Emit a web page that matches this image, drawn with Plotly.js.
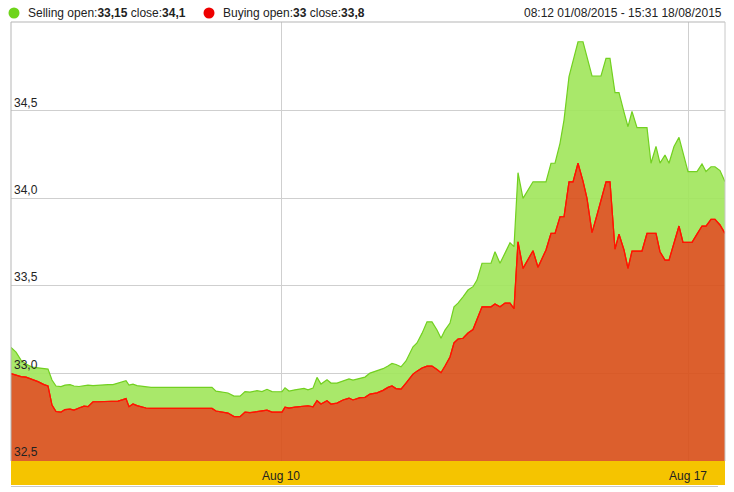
<!DOCTYPE html>
<html>
<head>
<meta charset="utf-8">
<script src="https://cdn.plot.ly/plotly-3.0.1.min.js"></script>
<style>
html,body{margin:0;padding:0;background:#fff;}
#chart{width:734px;height:492px;}
</style>
</head>
<body>
<div id="chart"></div>
<script>
// time index (sample position along the series)
const t = [0,5,10,15,21,27,33,37,41,45,50,54,59,63,68,73,77,82,87,92,97,102,107,112,115,118,122,126,130,135,140,154,169,184,201,205,211,217,223,229,234,239,246,251,256,261,266,271,274,278,284,289,293,297,302,306,310,316,320,326,332,338,342,349,354,359,366,372,377,381,385,390,395,402,406,411,416,421,426,430,434,439,443,447,452,457,462,466,471,476,480,484,489,494,499,503,507,512,517,522,527,531,535,540,544,549,553,558,562,567,572,576,581,586,590,595,599,604,608,613,617,621,626,631,636,640,645,649,654,658,663,668,672,677,681,686,691,695,700,704,709,714];

const selling = [33.146,33.120,33.074,33.051,33.034,33.029,33.026,33.023,32.960,32.926,32.923,32.931,32.934,32.926,32.923,32.926,32.931,32.928,32.931,32.934,32.934,32.934,32.943,32.951,32.956,32.931,32.937,32.928,32.926,32.920,32.918,32.918,32.918,32.918,32.918,32.897,32.891,32.886,32.868,32.868,32.894,32.891,32.899,32.894,32.907,32.894,32.893,32.894,32.916,32.897,32.904,32.908,32.912,32.904,32.914,32.975,32.937,32.962,32.943,32.943,32.954,32.967,32.960,32.971,32.977,33.000,33.013,33.025,33.040,33.055,33.049,33.036,33.069,33.150,33.172,33.227,33.293,33.293,33.246,33.199,33.246,33.286,33.379,33.400,33.436,33.475,33.494,33.532,33.628,33.628,33.628,33.694,33.628,33.686,33.745,33.723,34.146,33.999,34.047,34.094,34.094,34.094,34.094,34.200,34.200,34.314,34.447,34.695,34.791,34.895,34.895,34.802,34.699,34.699,34.699,34.800,34.800,34.604,34.604,34.493,34.409,34.496,34.404,34.404,34.404,34.200,34.296,34.201,34.247,34.200,34.296,34.348,34.253,34.152,34.152,34.152,34.196,34.153,34.180,34.180,34.158,34.094];

const buying = [32.997,32.989,32.980,32.977,32.966,32.951,32.934,32.926,32.817,32.780,32.777,32.791,32.794,32.788,32.800,32.811,32.808,32.836,32.836,32.836,32.836,32.836,32.840,32.848,32.854,32.808,32.823,32.814,32.808,32.800,32.798,32.798,32.798,32.798,32.798,32.783,32.777,32.771,32.751,32.751,32.777,32.774,32.779,32.785,32.788,32.777,32.777,32.777,32.805,32.800,32.805,32.807,32.808,32.813,32.807,32.842,32.823,32.842,32.823,32.828,32.846,32.857,32.846,32.859,32.861,32.880,32.887,32.901,32.918,32.926,32.911,32.908,32.943,32.994,33.011,33.029,33.040,33.040,33.020,33.002,33.040,33.092,33.173,33.195,33.199,33.229,33.249,33.303,33.379,33.379,33.379,33.395,33.379,33.400,33.400,33.368,33.751,33.599,33.652,33.700,33.605,33.652,33.704,33.799,33.799,33.894,33.894,34.094,34.094,34.200,34.098,33.999,33.803,33.904,33.995,34.094,34.094,33.709,33.795,33.704,33.599,33.698,33.698,33.698,33.799,33.799,33.799,33.694,33.646,33.646,33.744,33.841,33.748,33.748,33.748,33.795,33.841,33.841,33.879,33.879,33.847,33.799];

const xTickVals = [10, 270, 677];
const xTickText = ['', 'Aug 10', 'Aug 17'];
const yTickVals = [32.5, 33.0, 33.5, 34.0, 34.5];

const sellLegend = 'Selling open:<b>33,15</b> close:<b>34,1</b>';
const buyLegend = 'Buying open:<b>33</b> close:<b>33,8</b>';
const periodText = '08:12 01/08/2015 - 15:31 18/08/2015';

const W = 734, H = 492;
const M = {l: 11, r: 9, t: 22, b: 31};
const pw = W - M.l - M.r, ph = H - M.t - M.b;
const px = x => (x - M.l) / pw;
const py = y => (H - M.b - y) / ph;

const traces = [
  {x: t, y: buying, type: 'scatter', mode: 'lines', fill: 'tozeroy',
   fillcolor: 'rgba(216,78,22,0.9)', line: {color: '#ff1400', width: 1.2}, hoverinfo: 'skip'},
  {x: t, y: selling, type: 'scatter', mode: 'lines', fill: 'tonexty',
   fillcolor: 'rgba(160,229,90,0.9)', line: {color: '#72d020', width: 1.2}, hoverinfo: 'skip'},
  {x: t, y: buying, type: 'scatter', mode: 'lines',
   line: {color: '#ff1400', width: 1.2}, hoverinfo: 'skip'}
];

const layout = {
  width: W, height: H,
  margin: M,
  paper_bgcolor: '#ffffff', plot_bgcolor: '#ffffff',
  showlegend: false,
  separators: ',.',
  font: {family: 'Liberation Sans, Arial, sans-serif', size: 12, color: '#222'},
  xaxis: {
    range: [0, 714], tickvals: xTickVals, ticktext: xTickText,
    showgrid: true, gridcolor: '#cfcfcf', gridwidth: 1, zeroline: false,
    showline: false, ticks: '', ticklabelstandoff: 6,
    tickfont: {size: 12, color: '#222'}
  },
  yaxis: {
    range: [32.497, 35.008], tickvals: yTickVals, tickformat: '.1f',
    showgrid: true, gridcolor: '#cfcfcf', gridwidth: 1, zeroline: false,
    showline: false, ticks: '', ticklabelposition: 'inside top',
    tickfont: {size: 12, color: '#222'}
  },
  shapes: [
    {type: 'rect', xref: 'paper', yref: 'paper', x0: 0, x1: 1, y0: py(485), y1: 0,
     fillcolor: '#f5c400', line: {width: 0}, layer: 'below'},
    {type: 'line', xref: 'paper', yref: 'paper', x0: 0, x1: 1, y0: 1, y1: 1,
     line: {color: '#b5b5b5', width: 1}},
    {type: 'line', xref: 'paper', yref: 'paper', x0: 0, x1: 0, y0: 0, y1: 1,
     line: {color: '#b5b5b5', width: 1}},
    {type: 'line', xref: 'paper', yref: 'paper', x0: 1, x1: 1, y0: 0, y1: 1,
     line: {color: '#c8c8c8', width: 1}},
    {type: 'line', xref: 'paper', yref: 'paper', x0: 0, x1: px(718), y0: py(486.5), y1: py(486.5),
     line: {color: '#c8c8c8', width: 1}},
    {type: 'circle', xref: 'paper', yref: 'paper', x0: px(8.5), x1: px(19.5), y0: py(18.5), y1: py(7.5),
     fillcolor: '#6ed41a', line: {width: 0}},
    {type: 'circle', xref: 'paper', yref: 'paper', x0: px(203.5), x1: px(214.5), y0: py(18.5), y1: py(7.5),
     fillcolor: '#ee0000', line: {width: 0}}
  ],
  annotations: [
    {xref: 'paper', yref: 'paper', x: px(26), y: py(13), xanchor: 'left', yanchor: 'middle',
     text: sellLegend, showarrow: false, font: {size: 12, color: '#222'}},
    {xref: 'paper', yref: 'paper', x: px(221), y: py(13), xanchor: 'left', yanchor: 'middle',
     text: buyLegend, showarrow: false, font: {size: 12, color: '#222'}},
    {xref: 'paper', yref: 'paper', x: px(724), y: py(13), xanchor: 'right', yanchor: 'middle',
     text: periodText, showarrow: false, font: {size: 12, color: '#222'}}
  ]
};

Plotly.newPlot('chart', traces, layout, {displayModeBar: false, staticPlot: true});
</script>
</body>
</html>
